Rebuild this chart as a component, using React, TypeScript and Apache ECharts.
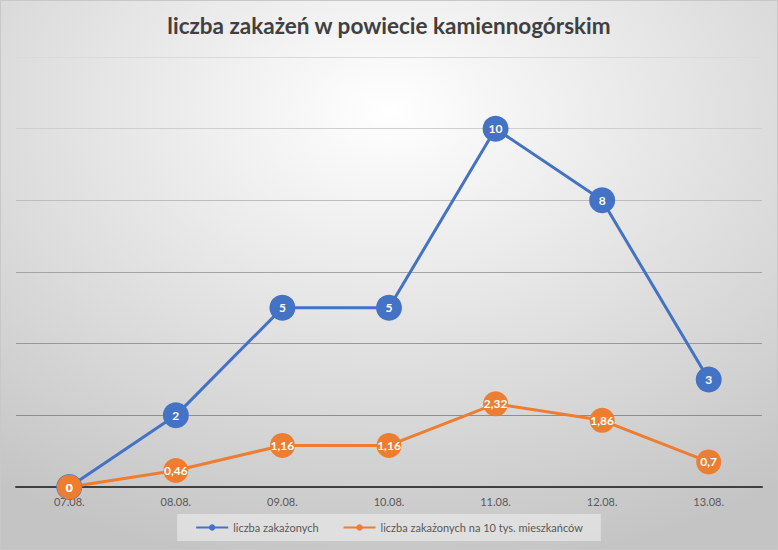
import React, { useEffect, useRef } from "react";
import * as echarts from "echarts";

const categories = ["07.08.", "08.08.", "09.08.", "10.08.", "11.08.", "12.08.", "13.08."];
const infected = [0, 2, 5, 5, 10, 8, 3];
const infectedPer10k = [0, 0.46, 1.16, 1.16, 2.32, 1.86, 0.7];
const seriesNames = ["liczba zakażonych", "liczba zakażonych na 10 tys. mieszkańców"];
const titleText = "liczba zakażeń w powiecie kamiennogórskim";

const fmt = (p: any) => String(p.value).replace(".", ",");

export default function App() {
  const ref = useRef<HTMLDivElement>(null);
  useEffect(() => {
    document.body.style.margin = "0";
    const chart = echarts.init(ref.current!, null, { renderer: "svg" });
    chart.setOption({
      animation: false,
      backgroundColor: {
        type: "radial",
        x: 0.5,
        y: 0.2,
        r: 0.85,
        colorStops: [
          { offset: 0, color: "#ffffff" },
          { offset: 1, color: "#c4c4c4" },
        ],
      },
      title: {
        text: titleText,
        left: "center",
        top: 8,
        textStyle: { fontFamily: "Lato", fontSize: 22.5, fontWeight: "bold", color: "#404040" },
      },
      grid: { left: 15, right: 15, top: 56, bottom: 62, containLabel: false },
      xAxis: {
        type: "category",
        data: categories,
        boundaryGap: true,
        axisLine: { lineStyle: { color: "#404040", width: 2 } },
        axisTick: { show: false },
        axisLabel: { color: "#595959", fontFamily: "Lato", fontSize: 11, margin: 9 },
      },
      yAxis: {
        type: "value",
        min: 0,
        max: 12,
        interval: 2,
        axisLabel: { show: false },
        axisLine: { show: false },
        axisTick: { show: false },
        splitLine: {
          lineStyle: {
            width: 1,
            color: ["#404040", "#8e8e8e", "#999999", "#a4a4a4", "#bdbdbd", "#cfcfcf", "#dadada"],
          },
        },
      },
      legend: {
        bottom: 8,
        left: "center",
        itemWidth: 32,
        itemHeight: 8,
        itemGap: 24,
        padding: [8, 18, 8, 18],
        backgroundColor: "rgba(240,240,240,0.55)",
        textStyle: { color: "#595959", fontFamily: "Lato", fontSize: 11 },
        data: seriesNames,
      },
      series: [
        {
          name: seriesNames[0],
          type: "line",
          data: infected,
          symbol: "circle",
          symbolSize: 26,
          color: "#4472c4",
          lineStyle: { width: 3, color: "#4472c4" },
          itemStyle: { color: "#4472c4" },
          label: {
            show: true,
            position: "inside",
            color: "#ffffff",
            fontFamily: "Lato",
            fontWeight: "bold",
            fontSize: 12,
            formatter: fmt,
          },
        },
        {
          name: seriesNames[1],
          type: "line",
          data: infectedPer10k,
          symbol: "circle",
          symbolSize: 25,
          color: "#ed7d31",
          lineStyle: { width: 3, color: "#ed7d31" },
          itemStyle: { color: "#ed7d31" },
          label: {
            show: true,
            position: "inside",
            color: "#ffffff",
            fontFamily: "Lato",
            fontWeight: "bold",
            fontSize: 12,
            formatter: fmt,
          },
        },
      ],
    });
    return () => chart.dispose();
  }, []);
  return (
    <div
      ref={ref}
      style={{ width: 778, height: 550, boxSizing: "border-box", border: "1px solid #c8c8c8" }}
    />
  );
}
